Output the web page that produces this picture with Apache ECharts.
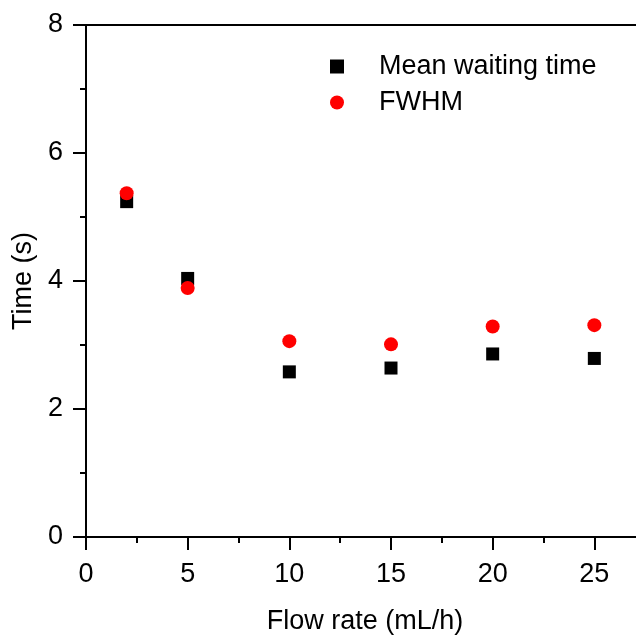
<!DOCTYPE html>
<html>
<head>
<meta charset="utf-8">
<script src="https://cdn.jsdelivr.net/npm/echarts@6/dist/echarts.min.js"></script>
<style>html,body{margin:0;padding:0;background:#fff}#c{width:636px;height:639px}</style>
</head>
<body>
<div id="c"></div>
<script>
var flowRates = [2, 5, 10, 15, 20, 25];
var meanWaiting = [5.24, 4.04, 2.58, 2.64, 2.86, 2.79];
var fwhm = [5.37, 3.89, 3.06, 3.01, 3.29, 3.31];
var xTicks = [0, 5, 10, 15, 20, 25];
var yTicks = [0, 2, 4, 6, 8];

var FONT = 'Liberation Sans';
var FS = 27;
var chart = echarts.init(document.getElementById('c'), null, {renderer: 'canvas'});
function pairs(xs, ys) { return xs.map(function (x, i) { return [x, ys[i]]; }); }

chart.setOption({
  backgroundColor: '#fff',
  animation: false,
  grid: {left: 86, width: 610, top: 25, bottom: 102, containLabel: false, outerBoundsMode: 'none'},
  legend: {
    orient: 'vertical',
    left: 325,
    top: 48,
    itemWidth: 14,
    itemHeight: 14,
    itemGap: 9,
    textStyle: {fontFamily: FONT, fontSize: FS, color: '#000', padding: [0, 0, 0, 30]},
    data: [
      {name: 'Mean waiting time', icon: 'rect'},
      {name: 'FWHM', icon: 'circle'}
    ]
  },
  xAxis: [{
    type: 'value', position: 'bottom', min: 0, max: 30, interval: 5,
    name: 'Flow rate (mL/h)', nameLocation: 'middle', nameGap: 71,
    nameTextStyle: {fontFamily: FONT, fontSize: FS, color: '#000', padding: [0, 52, 0, 0]},
    axisLine: {show: true, onZero: false, lineStyle: {color: '#000', width: 2}},
    axisTick: {show: true, inside: false, length: 13, lineStyle: {color: '#000', width: 2}},
    minorTick: {show: true, splitNumber: 2, length: 6, lineStyle: {color: '#000', width: 2}},
    axisLabel: {margin: 24, fontFamily: FONT, fontSize: FS, color: '#000',
      formatter: function (v) { return xTicks.indexOf(v) >= 0 ? String(v) : ''; }},
    splitLine: {show: false}, minorSplitLine: {show: false}
  }, {
    type: 'value', position: 'top', min: 0, max: 30,
    axisLine: {show: true, onZero: false, lineStyle: {color: '#000', width: 2}},
    axisTick: {show: false}, axisLabel: {show: false}, splitLine: {show: false}
  }],
  yAxis: {
    type: 'value', min: 0, max: 8, interval: 2,
    name: 'Time (s)', nameLocation: 'middle', nameGap: 49,
    nameTextStyle: {fontFamily: FONT, fontSize: FS, color: '#000'},
    axisLine: {show: true, onZero: false, lineStyle: {color: '#000', width: 2}},
    axisTick: {show: true, inside: false, length: 13, lineStyle: {color: '#000', width: 2}},
    minorTick: {show: true, splitNumber: 2, length: 6, lineStyle: {color: '#000', width: 2}},
    axisLabel: {margin: 23, fontFamily: FONT, fontSize: FS, color: '#000',
      formatter: function (v) { return yTicks.indexOf(v) >= 0 ? String(v) : ''; }},
    splitLine: {show: false}, minorSplitLine: {show: false}
  },
  series: [{
    name: 'Mean waiting time', type: 'scatter', symbol: 'rect', symbolSize: 13,
    itemStyle: {color: '#000', opacity: 1}, data: pairs(flowRates, meanWaiting), z: 2
  }, {
    name: 'FWHM', type: 'scatter', symbol: 'circle', symbolSize: 14,
    itemStyle: {color: '#ff0000', opacity: 1}, data: pairs(flowRates, fwhm), z: 3
  }]
});
</script>
</body>
</html>
